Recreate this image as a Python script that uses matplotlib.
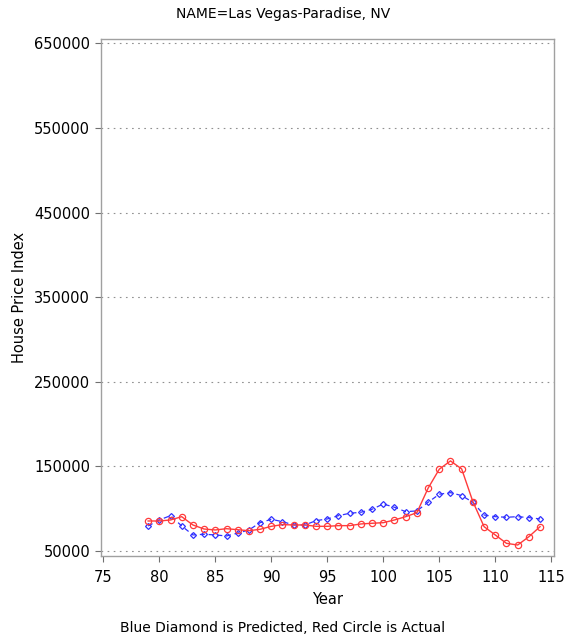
import matplotlib
matplotlib.use("Agg")
import matplotlib.pyplot as plt

years = list(range(79, 115))

# predicted (blue diamonds) and actual (red circles) house price index
predicted = [79600, 86700, 91800, 79600, 69000, 69800, 69000, 67800, 71200, 74900,
             83500, 87500, 84700, 80800, 80800, 85900, 87900, 91800, 94600, 95800,
             99400, 105600, 101700, 96500, 97400, 107600, 117100, 119000, 115500, 107600,
             92600, 90600, 89900, 90600, 89500, 87900]
actual = [85500, 85500, 86700, 90600, 80800, 76000, 74900, 76400, 75200, 74000,
          75700, 79200, 81200, 80800, 80800, 79200, 79200, 80000, 80000, 82000,
          82800, 83500, 86700, 90600, 95300, 124200, 146700, 156500, 147000, 108400,
          78800, 69000, 59100, 57100, 66900, 78800]

yticks = [50000, 150000, 250000, 350000, 450000, 550000, 650000]
xticks = [75, 80, 85, 90, 95, 100, 105, 110, 115]

fig = plt.figure(figsize=(5.66, 6.41), dpi=100)
ax = fig.add_axes([0.1776, 0.1331, 0.8017, 0.8056])

ax.plot(years, predicted, color="#3030ff", linestyle=(0, (4, 3)), linewidth=0.9,
        marker="D", markersize=3.0, markerfacecolor="none", markeredgecolor="#3030ff",
        markeredgewidth=0.9)
ax.plot(years, actual, color="#ff3b3b", linestyle="-", linewidth=1.0,
        marker="o", markersize=4.5, markerfacecolor="none", markeredgecolor="#ff3b3b",
        markeredgewidth=0.9)

ax.set_xlim(74.75, 115.27)
ax.set_ylim(44500, 654700)
ax.set_xticks(xticks)
ax.set_yticks(yticks)
ax.set_yticklabels([str(v) for v in yticks])
ax.yaxis.grid(True, linestyle=(0, (1.5, 4)), color="#909090", linewidth=0.8)
ax.set_axisbelow(True)

for s in ax.spines.values():
    s.set_color("#a0a0a0")
    s.set_linewidth(1.0)
ax.tick_params(colors="#707070", labelcolor="black", labelsize=10.5, length=4, width=0.8)
ax.tick_params(axis="x", pad=6)

ax.set_xlabel("Year", fontsize=10.5, labelpad=5)
ax.set_ylabel("House Price Index", fontsize=10.5, labelpad=5)
fig.text(0.5, 0.978, "NAME=Las Vegas-Paradise, NV", ha="center", va="center", fontsize=10)
fig.text(0.5, 0.02, "Blue Diamond is Predicted, Red Circle is Actual", ha="center",
         va="center", fontsize=10)

fig.savefig("out.png", dpi=100)
